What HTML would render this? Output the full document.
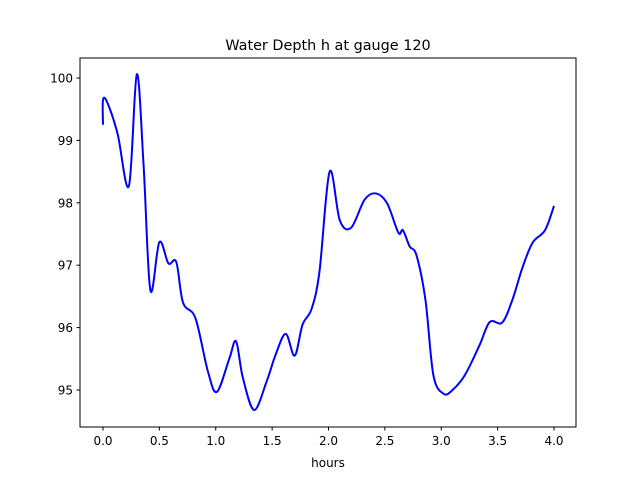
<!DOCTYPE html>
<html><head><meta charset="utf-8"><style>
body{margin:0;background:#fff;}
text{font-family:"DejaVu Sans","Liberation Sans",sans-serif;}
</style></head><body>
<svg id="chart" width="640" height="480" xmlns="http://www.w3.org/2000/svg">
<rect width="640" height="480" fill="#fff"/>
<text x="328" y="50" text-anchor="middle" font-size="14.4">Water Depth h at gauge 120</text>
<g id="axes"></g>
<path id="line" fill="none" stroke="#0000ff" stroke-width="2"/>
<rect x="80" y="58" width="496" height="369" fill="none" stroke="#000" stroke-width="1"/>
<text x="328" y="467" text-anchor="middle" font-size="12">hours</text>
</svg>
<script>
const times=[0,0,0.04,0.13,0.23,0.30,0.36,0.42,0.5,0.58,0.65,0.71,0.82,0.93,1.01,1.12,1.18,1.24,1.34,1.45,1.53,1.62,1.70,1.77,1.85,1.92,2.01,2.1,2.2,2.32,2.42,2.52,2.62,2.66,2.72,2.78,2.86,2.93,3.02,3.1,3.21,3.34,3.43,3.54,3.63,3.72,3.81,3.92,4.0];
const depths=[99.25,99.65,99.6,99.1,98.27,100.06,98.6,96.6,97.37,97.03,97.05,96.4,96.15,95.3,94.97,95.5,95.78,95.2,94.68,95.13,95.56,95.9,95.55,96.05,96.3,96.9,98.5,97.72,97.6,98.05,98.15,97.99,97.52,97.56,97.3,97.16,96.44,95.24,94.94,95.0,95.24,95.72,96.09,96.08,96.44,96.96,97.36,97.56,97.95];
const xTicks=[0,0.5,1,1.5,2,2.5,3,3.5,4];
const xTickLabels=["0.0","0.5","1.0","1.5","2.0","2.5","3.0","3.5","4.0"];
const yTicks=[95,96,97,98,99,100];
const yTickLabels=["95","96","97","98","99","100"];
const X=t=>103+t*112.75;
const Y=h=>78+(100-h)*62.4;
const NS="http://www.w3.org/2000/svg";
const axes=document.getElementById('axes');
function mk(tag,attrs){const e=document.createElementNS(NS,tag);for(const k in attrs)e.setAttribute(k,attrs[k]);axes.appendChild(e);return e;}
xTicks.forEach((v,i)=>{
 const l=mk('line',{x1:X(v),x2:X(v),y1:427,y2:430.5,stroke:'#000'});
 
 
 const t=mk('text',{x:X(v),y:445,'text-anchor':'middle','font-size':'12'});
 t.textContent=xTickLabels[i];
 
 
});
yTicks.forEach((v,i)=>{
 const l=mk('line',{x1:76.5,x2:80,y1:Y(v),y2:Y(v),stroke:'#000'});
 
 
 const t=mk('text',{x:73,y:Y(v)+4.5,'text-anchor':'end','font-size':'12'});
 t.textContent=yTickLabels[i];
 
 
});
const pts=times.map((t,i)=>[X(t),Y(depths[i])]);
let d=`M${pts[0][0]},${pts[0][1]}`;
for(let i=0;i<pts.length-1;i++){
 const p0=pts[Math.max(0,i-1)],p1=pts[i],p2=pts[i+1],p3=pts[Math.min(pts.length-1,i+2)];
 const c1=[p1[0]+(p2[0]-p0[0])/6,p1[1]+(p2[1]-p0[1])/6];
 const c2=[p2[0]-(p3[0]-p1[0])/6,p2[1]-(p3[1]-p1[1])/6];
 d+=` C${c1[0]},${c1[1]} ${c2[0]},${c2[1]} ${p2[0]},${p2[1]}`;
}
document.getElementById('line').setAttribute('d',d);
</script>
</body></html>
